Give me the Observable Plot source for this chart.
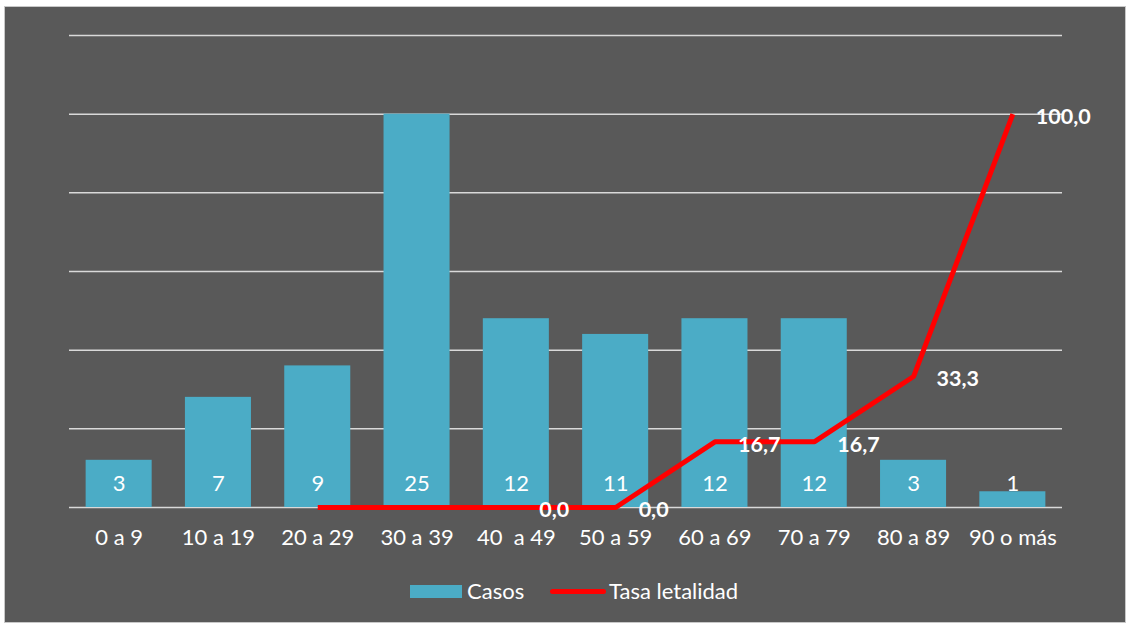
<!DOCTYPE html>
<html>
<head>
<meta charset="utf-8">
<script src="https://cdn.jsdelivr.net/npm/d3@7"></script>
<script src="https://cdn.jsdelivr.net/npm/@observablehq/plot@0.6"></script>
<style>
  html, body { margin: 0; padding: 0; background: #ffffff; width: 1129px; height: 626px; overflow: hidden; }
  #frame { position: absolute; left: 4px; top: 6px; width: 1120px; height: 615px; background: #595959; border: 1px solid #c8c8c8; }
  #chart { position: absolute; left: 0; top: 0; }
  #legend { position: absolute; left: 0; top: 576px; width: 1129px; height: 30px; font-family: Lato, "Open Sans", sans-serif; font-size: 22px; color: #ffffff; }
  .sw { position: absolute; }
  .lt { position: absolute; top: 1px; }
  text { white-space: pre; }
</style>
</head>
<body>
<div id="frame"></div>
<div id="chart"></div>
<div id="legend">
  <div class="sw" style="left:410px; top:9px; width:52px; height:13px; background:#4BACC6;"></div>
  <div class="lt" style="left:467px;">Casos</div>
  <div class="sw" style="left:550px; top:13px; width:56px; height:5px; border-radius:3px; background:#ff0000;"></div>
  <div class="lt" style="left:609px;">Tasa letalidad</div>
</div>
<script>
const ages = ["0 a 9", "10 a 19", "20 a 29", "30 a 39", "40  a 49", "50 a 59", "60 a 69", "70 a 79", "80 a 89", "90 o más"];
const casos = [3, 7, 9, 25, 12, 11, 12, 12, 3, 1];
const tasa = [null, null, 0, 0, 0, 0, 16.7, 16.7, 33.3, 100];
const tasaLabels = ["", "", "", "", "0,0", "0,0", "16,7", "16,7", "33,3", "100,0"];
const gridTicks = [0, 5, 10, 15, 20, 25, 30];
const tasaMax = 120; // secondary axis max, aligned with primary max 30

const bars = ages.map((a, i) => ({age: a, casos: casos[i]}));
const line = ages.map((a, i) => ({age: a, tasa: tasa[i], label: tasaLabels[i]})).filter(d => d.tasa !== null);
const toPrimary = v => v * 30 / tasaMax;
const FONT = "Lato, 'Open Sans', sans-serif";

const chart = Plot.plot({
  width: 1129,
  height: 560,
  marginLeft: 69,
  marginRight: 67,
  marginTop: 35,
  marginBottom: 53,
  style: {background: "transparent", color: "#ffffff", fontFamily: FONT, fontSize: "22px"},
  x: {domain: ages, paddingInner: 0.335, paddingOuter: 0.1675, round: false, label: null},
  y: {domain: [0, 30], axis: null},
  marks: [
    Plot.ruleY(gridTicks, {stroke: "#d9d9d9", strokeWidth: 1.5}),
    Plot.barY(bars, {x: "age", y: "casos", fill: "#4BACC6"}),
    Plot.text(bars, {x: "age", y: () => 0, text: d => String(d.casos), dy: -24, fill: "#ffffff", fontSize: 22, fontFamily: FONT}),
    Plot.line(line, {x: "age", y: d => toPrimary(d.tasa), stroke: "#ff0000", strokeWidth: 5, strokeLinejoin: "miter", strokeLinecap: "butt"}),
    Plot.text(line, {x: "age", y: d => toPrimary(d.tasa), text: "label", textAnchor: "start", dx: 23, dy: 3, fill: "#ffffff", fontWeight: "bold", fontSize: 21.5, fontFamily: FONT}),
    Plot.axisX({tickSize: 0, tickPadding: 22, fill: "#ffffff", fontSize: 22, label: null})
  ]
});
document.getElementById("chart").appendChild(chart);
</script>
</body>
</html>
